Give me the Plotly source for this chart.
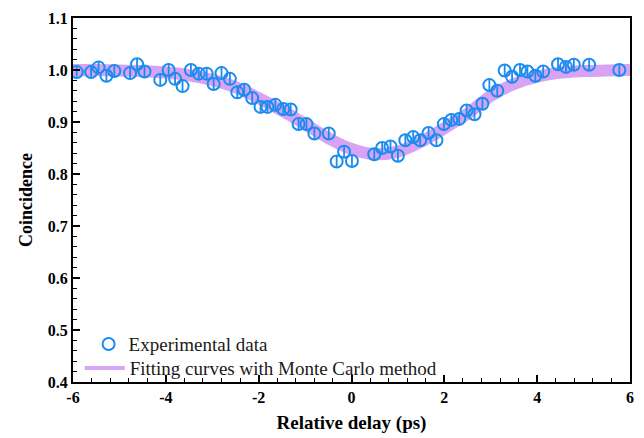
import plotly.graph_objects as go

# Experimental data (relative delay in ps, normalized coincidence)
delay = [-5.92, -5.61, -5.45, -5.28, -5.11, -4.77, -4.62, -4.46, -4.12, -3.94,
         -3.80, -3.64, -3.46, -3.29, -3.12, -2.97, -2.80, -2.62, -2.46, -2.31,
         -2.14, -1.96, -1.81, -1.64, -1.47, -1.31, -1.14, -0.97, -0.80, -0.49,
         -0.32, -0.16, 0.01, 0.49, 0.66, 0.84, 1.00, 1.16, 1.33, 1.48,
         1.66, 1.83, 1.99, 2.15, 2.32, 2.48, 2.65, 2.82, 2.97, 3.14,
         3.30, 3.46, 3.63, 3.79, 3.96, 4.13, 4.45, 4.62, 4.79, 5.12, 5.77]
coinc = [0.996, 0.996, 1.005, 0.989, 0.998, 0.994, 1.011, 0.997, 0.981, 1.000,
         0.983, 0.969, 1.000, 0.993, 0.993, 0.973, 0.994, 0.983, 0.957, 0.962,
         0.946, 0.929, 0.929, 0.933, 0.925, 0.924, 0.896, 0.896, 0.878, 0.878,
         0.824, 0.843, 0.825, 0.838, 0.850, 0.853, 0.835, 0.865, 0.871, 0.865,
         0.879, 0.865, 0.896, 0.904, 0.906, 0.922, 0.915, 0.935, 0.971, 0.960,
         0.999, 0.987, 1.000, 0.997, 0.989, 0.997, 1.011, 1.006, 1.010, 1.010, 1.000]

# Monte Carlo fitting curve
fit_x = [-6, -5.5, -5, -4.5, -4, -3.5, -3, -2.5, -2, -1.5, -1, -0.5, 0,
         0.5, 1.0, 1.5, 2.0, 2.5, 3.0, 3.5, 4.0, 4.5, 5.0, 5.5, 6.0]
fit_y = [1.000, 1.000, 0.999, 0.998, 0.995, 0.990, 0.981, 0.967, 0.946, 0.922,
         0.896, 0.869, 0.848, 0.838, 0.843, 0.862, 0.888, 0.916, 0.950, 0.973,
         0.987, 0.995, 0.998, 0.999, 1.000]

x_ticks = [-6, -4, -2, 0, 2, 4, 6]
y_ticks = [0.4, 0.5, 0.6, 0.7, 0.8, 0.9, 1.0, 1.1]
y_tick_text = ["0.4", "0.5", "0.6", "0.7", "0.8", "0.9", "1.0", "1.1"]

BLUE = "#1A8CF0"
PURPLE = "#D9A3F5"
SERIF = "Liberation Serif, Times New Roman, serif"

fig = go.Figure()

# fitting curve (thick band)
fig.add_trace(go.Scatter(
    x=fit_x, y=fit_y, mode="lines", line=dict(color=PURPLE, width=12, shape="spline"),
    showlegend=False, hoverinfo="skip"))

# experimental points: open circle + inner vertical bar
fig.add_trace(go.Scatter(
    x=delay, y=coinc, mode="markers",
    marker=dict(symbol="circle-open", size=12, color=BLUE, line=dict(width=2, color=BLUE)),
    name="Experimental data", legend="legend"))
fig.add_trace(go.Scatter(
    x=delay, y=coinc, mode="markers",
    marker=dict(symbol="line-ns-open", size=8, color=BLUE, line=dict(width=1.8, color=BLUE)),
    showlegend=False, hoverinfo="skip"))

# legend entry for the fitting curve
fig.add_trace(go.Scatter(
    x=[None], y=[None], mode="lines", line=dict(color=PURPLE, width=4),
    name="Fitting curves with Monte Carlo method", legend="legend2"))

axis_common = dict(
    showline=True, linecolor="black", linewidth=2, mirror=True,
    ticks="inside", tickcolor="black", tickwidth=1.5, ticklen=7,
    showgrid=False, zeroline=False, automargin=False,
    tickfont=dict(family=SERIF, size=16, color="black", weight="bold"),
)

legend_font = dict(family=SERIF, size=19, color="#1a1a1a")

fig.update_layout(
    width=644, height=438,
    margin=dict(l=73, r=14, t=18, b=56),
    paper_bgcolor="white", plot_bgcolor="white",
    font=dict(family=SERIF, color="black"),
    xaxis=dict(range=[-6, 6], tickvals=x_ticks, ticktext=[str(v) for v in x_ticks],
               minor=dict(dtick=0.4, ticks="inside", ticklen=4, tickcolor="black", tickwidth=1.2),
               title=dict(text="Relative delay (ps)", standoff=10,
                          font=dict(family=SERIF, size=19, color="black", weight="bold")),
               **axis_common),
    yaxis=dict(range=[0.4, 1.1], tickvals=y_ticks, ticktext=y_tick_text,
               minor=dict(dtick=0.02, ticks="inside", ticklen=4, tickcolor="black", tickwidth=1.2),
               title=dict(text="Coincidence", standoff=10,
                          font=dict(family=SERIF, size=18, color="black", weight="bold")),
               **axis_common),
    legend=dict(x=0.028, y=0.104, xanchor="left", yanchor="middle",
                bgcolor="rgba(0,0,0,0)", borderwidth=0, font=legend_font,
                tracegroupgap=0, itemwidth=30),
    legend2=dict(x=0.012, y=0.038, xanchor="left", yanchor="middle",
                 bgcolor="rgba(0,0,0,0)", borderwidth=0, font=legend_font,
                 tracegroupgap=0, itemwidth=40),
)

fig.write_html("out.html")
